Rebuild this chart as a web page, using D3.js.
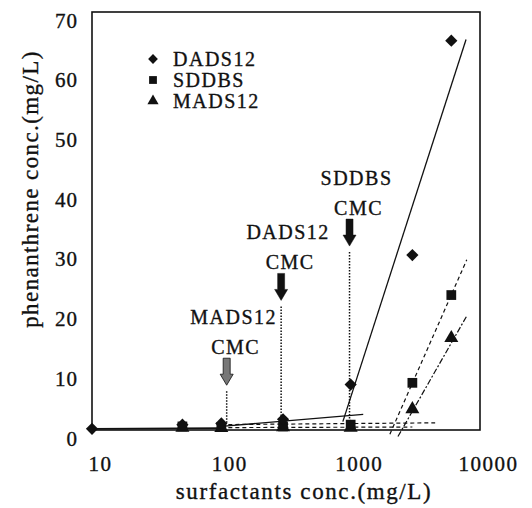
<!DOCTYPE html>
<html lang="en">
<head>
    <meta charset="UTF-8">
    <script src="https://d3js.org/d3.v7.min.js"></script>
    <title>phenanthrene</title>
    <style>
        body { margin: 0px; background: #fff; }
        text { font-family: "Liberation Serif", "DejaVu Serif", serif; fill: #111; stroke: #111; stroke-width: 0.35px; }
    </style>
</head>
<body>
    <svg id="chart" width="532" height="508"></svg>
    <script>
        // measured points (surfactant conc. mg/L, phenanthrene mg/L)
        const dadsX = [10, 50, 100, 300, 1000, 3000, 6000];
        const dadsY = [0.2, 0.9, 1.1, 1.8, 7.6, 29.3, 65.2];
        const sddbsX = [50, 100, 300, 1000, 3000, 6000];
        const sddbsY = [0.6, 0.5, 0.6, 0.9, 7.9, 22.6];
        const madsX = [50, 100, 300, 1000, 3000, 6000];
        const madsY = [0.4, 0.35, 0.45, 0.4, 3.5, 15.4];

        // fitted lines, [x0, y0, x1, y1]
        const baseLine = [10, 0.2, 100, 0.3];
        const dadsBelow = [100, 0.6, 1250, 2.6];
        const sddbsBelow = [100, 0.9, 4500, 1.2];
        const madsBelow = [100, 0.4, 3000, 0.5];
        const dadsAbove = [870, 1.4, 7800, 65.4];
        const sddbsAbove = [2010, -0.7, 7900, 28.5];
        const madsAbove = [2320, -1.1, 7900, 19.1];

        // CMC markers
        const cmcNames = ['MADS12', 'DADS12', 'SDDBS'];
        const cmcX = [110, 290, 980];
        const cmcTip = [7.5, 21.7, 30.8];

        const xTicks = [10, 100, 1000, 10000];
        const yTicks = [0, 10, 20, 30, 40, 50, 60, 70];
        const legendNames = ['DADS12', 'SDDBS', 'MADS12'];

        const svg = d3.select('#chart');
        const x = d3.scaleLog().domain([10, 10000]).range([92, 480]);
        const y = d3.scaleLinear().domain([0, 70]).range([430, 12]);

        const fs = '20px';

        // frame
        svg.append('rect')
            .attr('x', x(10)).attr('y', y(70))
            .attr('width', x(10000) - x(10)).attr('height', y(0) - y(70))
            .attr('fill', 'none').attr('stroke', '#111').attr('stroke-width', 1.6);

        // axes (labels only, scanned offset kept)
        const xa = svg.append('g').attr('transform', `translate(0, ${y(0)})`)
            .call(d3.axisBottom(x).tickValues(xTicks).tickFormat(d3.format('d')).tickSize(0).tickPadding(0));
        xa.select('.domain').remove();
        xa.selectAll('text').attr('dx', 8).attr('dy', 0).attr('y', 41)
            .style('font-size', '21px').style('letter-spacing', '1.5px')
            .style('font-family', '"Liberation Serif", serif').attr('fill', '#111');

        const ya = svg.append('g').attr('transform', `translate(${x(10) - 14}, 0)`)
            .call(d3.axisLeft(y).tickValues(yTicks).tickSize(0).tickPadding(0));
        ya.select('.domain').remove();
        ya.selectAll('text').attr('dy', 15)
            .style('font-size', '21px').style('letter-spacing', '1px')
            .style('font-family', '"Liberation Serif", serif').attr('fill', '#111');

        svg.append('text').attr('x', 304).attr('y', 499).attr('text-anchor', 'middle')
            .style('font-size', '23px').style('letter-spacing', '1.6px')
            .text('surfactants conc.(mg/L)');
        svg.append('text').attr('transform', 'translate(38, 189) rotate(-90)').attr('text-anchor', 'middle')
            .style('font-size', '23px').style('letter-spacing', '1.4px')
            .text('phenanthrene conc.(mg/L)');

        // lines
        function seg(s, dash, w) {
            svg.append('line')
                .attr('x1', x(s[0])).attr('y1', y(s[1]))
                .attr('x2', x(s[2])).attr('y2', y(s[3]))
                .attr('stroke', '#111').attr('stroke-width', w || 1.3)
                .attr('stroke-dasharray', dash || null);
        }
        seg(baseLine, null, 1.8);
        seg(dadsBelow, null, 1.3);
        seg(sddbsBelow, '4,3', 1.2);
        seg(madsBelow, '4,3', 1.2);
        seg(dadsAbove, null, 1.3);
        seg(sddbsAbove, '4,3', 1.2);
        seg(madsAbove, '6,2,2,2', 1.2);

        // CMC arrows + dotted drops
        cmcX.forEach((c, i) => {
            const cx = x(c), ty = y(cmcTip[i]);
            svg.append('line').attr('x1', cx).attr('x2', cx)
                .attr('y1', ty + 6).attr('y2', y(1.0))
                .attr('stroke', '#111').attr('stroke-width', 1.5).attr('stroke-dasharray', '1.5,1.5');
            const p = d3.path();
            p.moveTo(cx - 3.5, ty - 27); p.lineTo(cx + 3.5, ty - 27);
            p.lineTo(cx + 3.5, ty - 11); p.lineTo(cx + 6.5, ty - 11);
            p.lineTo(cx, ty); p.lineTo(cx - 6.5, ty - 11);
            p.lineTo(cx - 3.5, ty - 11); p.closePath();
            svg.append('path').attr('d', p.toString())
                .attr('fill', i === 0 ? '#777' : '#111')
                .attr('stroke', '#111').attr('stroke-width', i === 0 ? 0.8 : 0.5);
            svg.append('text').attr('x', cx + 7).attr('y', ty - 61).attr('text-anchor', 'middle')
                .style('font-size', fs).style('letter-spacing', '1.5px').text(cmcNames[i]);
            svg.append('text').attr('x', cx + 9).attr('y', ty - 31).attr('text-anchor', 'middle')
                .style('font-size', fs).style('letter-spacing', '1.5px').text('CMC');
        });

        // markers
        const diamond = d3.symbol().type(d3.symbolDiamond2).size(95);
        const square = d3.symbol().type(d3.symbolSquare).size(95);
        const tri = d3.symbol().type(d3.symbolTriangle).size(85);

        function pts(xs, ys, sym) {
            svg.append('g').selectAll('path').data(xs).join('path')
                .attr('d', sym)
                .attr('transform', (d, i) => `translate(${x(d)}, ${y(ys[i])})`)
                .attr('fill', '#111');
        }
        pts(madsX, madsY, tri);
        pts(sddbsX, sddbsY, square);
        pts(dadsX, dadsY, diamond);

        // legend
        const syms = [diamond, square, tri];
        legendNames.forEach((n, i) => {
            const ly = 59 + i * 21;
            svg.append('path').attr('d', syms[i]).attr('fill', '#111')
                .attr('transform', `translate(153, ${ly}) scale(0.8)`);
            svg.append('text').attr('x', 173).attr('y', ly + 7)
                .style('font-size', fs).style('letter-spacing', '1.5px').text(n);
        });
    </script>
</body>
</html>
